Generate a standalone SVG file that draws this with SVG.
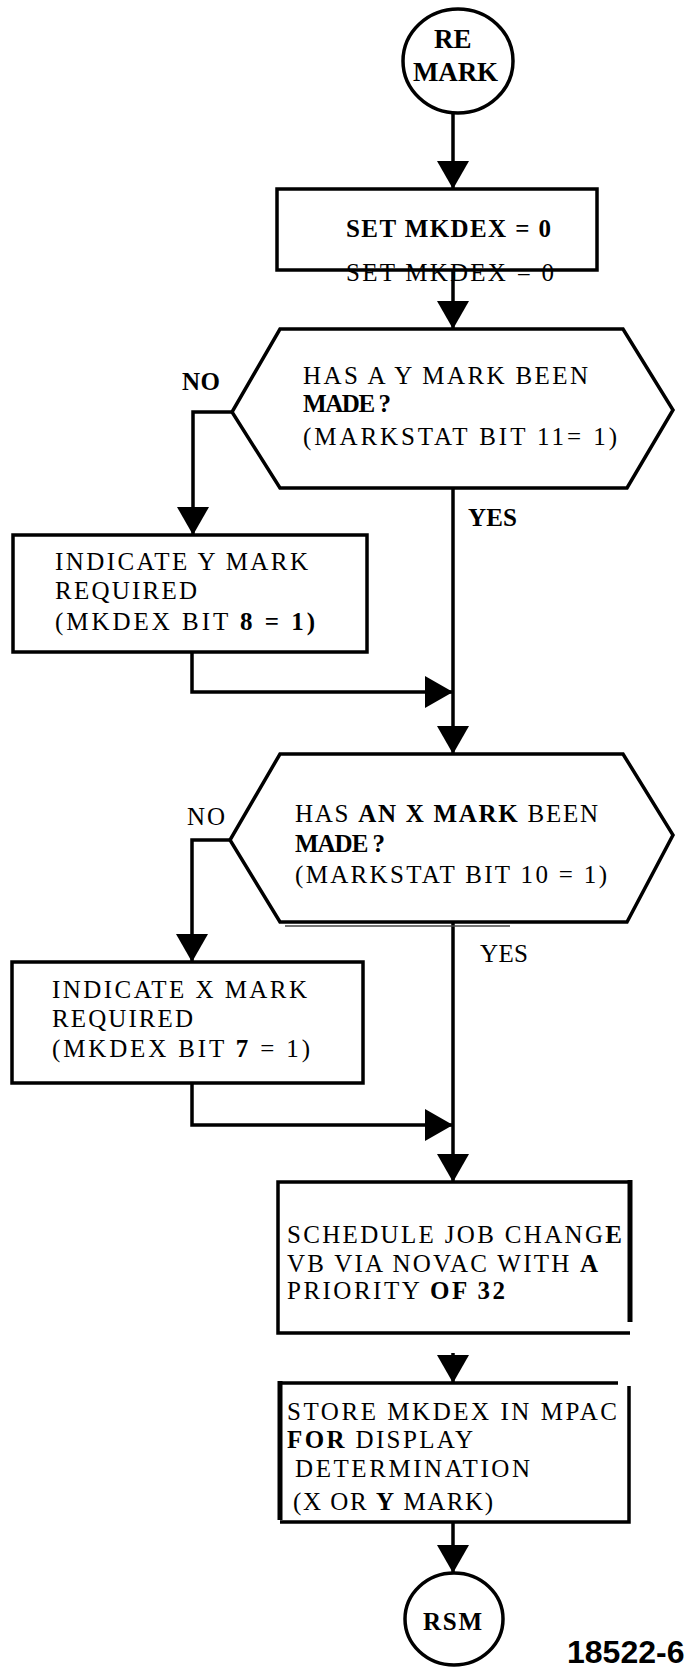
<svg xmlns="http://www.w3.org/2000/svg" width="685" height="1667" viewBox="0 0 685 1667">
  <style>
    .shape { fill: #fff; stroke: #000; stroke-width: 3.5; }
    .edge { fill: none; stroke: #000; stroke-width: 3.5; }
    .wire { fill: none; stroke: #000; stroke-width: 3.5; }
    .t { font-family: "Liberation Serif", "Times New Roman", serif; font-size: 25px; fill: #000; }
    .b { font-weight: bold; }
    .term { font-family: "Liberation Serif", "Times New Roman", serif; font-weight: bold; fill: #000; }
    .ref { font-family: "Liberation Sans", Arial, sans-serif; font-weight: bold; font-size: 32px; fill: #000; }
  </style>
  <defs>
    <marker id="head" markerUnits="userSpaceOnUse" markerWidth="28" markerHeight="32" refX="28" refY="16" orient="auto" viewBox="0 0 28 32">
      <path d="M0,0 L28,16 L0,32 Z" fill="#000"/>
    </marker>
  </defs>
  <rect width="685" height="1667" fill="#fff"/>

  <!-- flow lines -->
  <g id="connectors">
    <path class="wire" d="M453,113 V189" marker-end="url(#head)"/>
    <path class="wire" d="M453,270 V329" marker-end="url(#head)"/>
    <path class="wire" d="M232,412 H193 V535" marker-end="url(#head)"/>
    <path class="wire" d="M453,488 V754" marker-end="url(#head)"/>
    <path class="wire" d="M192,652 V692 H453" marker-end="url(#head)"/>
    <path class="wire" d="M230,840 H192 V962" marker-end="url(#head)"/>
    <path class="wire" d="M453,922 V1182" marker-end="url(#head)"/>
    <path class="wire" d="M192,1083 V1125 H453" marker-end="url(#head)"/>
    <path class="wire" d="M453,1353 V1383" marker-end="url(#head)"/>
    <path class="wire" d="M453,1522 V1573" marker-end="url(#head)"/>
  </g>

  <g id="remark">
    <ellipse class="shape" cx="458" cy="61" rx="55" ry="52"/>
    <text class="term" x="434" y="48" font-size="27">RE</text>
    <text class="term" x="413" y="81" font-size="27" textLength="85">MARK</text>
  </g>

  <g id="set-mkdex">
    <rect class="shape" x="277" y="189" width="320" height="81"/>
    <text class="t b" x="346" y="237" font-size="26" textLength="205">SET MKDEX = 0</text>
    <text class="t" x="346" y="281" font-size="26" fill="#222" textLength="208">SET MKDEX = 0</text>
  </g>

  <g id="y-mark-test">
    <polygon class="shape" points="280,329 623,329 673,410 627,488 280,488 232,412"/>
    <text class="t" x="303" y="384" textLength="285">HAS A Y MARK BEEN</text>
    <text class="t b" x="303" y="412" textLength="88">MADE ?</text>
    <text class="t" x="303" y="445" textLength="314">(MARKSTAT BIT 11= 1)</text>
    <text class="t b" x="182" y="390" textLength="38">NO</text>
    <text class="t b" x="468" y="526" textLength="49">YES</text>
  </g>

  <g id="y-mark-required">
    <rect class="shape" x="13" y="535" width="354" height="117"/>
    <text class="t" x="55" y="570" textLength="253">INDICATE Y MARK</text>
    <text class="t" x="55" y="599" textLength="142">REQUIRED</text>
    <text class="t" x="55" y="630" textLength="260">(MKDEX BIT <tspan class="b">8 = 1)</tspan></text>
  </g>

  <g id="x-mark-test">
    <polygon class="shape" points="280,754 623,754 673,835 627,922 280,922 230,840"/>
    <line x1="285" y1="926" x2="510" y2="926" stroke="#444" stroke-width="1.5"/>
    <text class="t" x="295" y="822" textLength="303">HAS <tspan class="b">AN X MARK</tspan> BEEN</text>
    <text class="t b" x="295" y="852" textLength="90">MADE ?</text>
    <text class="t" x="295" y="883" textLength="312">(MARKSTAT BIT 10 = 1)</text>
    <text class="t" x="187" y="825" textLength="38">NO</text>
    <text class="t" x="480" y="962" textLength="48">YES</text>
  </g>

  <g id="x-mark-required">
    <rect class="shape" x="12" y="962" width="351" height="121"/>
    <text class="t" x="52" y="998" textLength="255">INDICATE X MARK</text>
    <text class="t" x="52" y="1027" textLength="141">REQUIRED</text>
    <text class="t" x="52" y="1057" textLength="258">(MKDEX BIT <tspan class="b">7</tspan> = 1)</text>
  </g>

  <g id="schedule-job">
    <rect x="278" y="1182" width="352" height="151" fill="#fff"/>
    <path class="edge" d="M630,1182 H278 V1333 H630"/>
    <line x1="630" y1="1180" x2="630" y2="1322" stroke="#000" stroke-width="5"/>
    <text class="t" x="287" y="1243" textLength="335">SCHEDULE JOB CHANG<tspan class="b">E</tspan></text>
    <text class="t" x="287" y="1272" textLength="311">VB VIA NOVAC WITH <tspan class="b">A</tspan></text>
    <text class="t" x="287" y="1299" textLength="218">PRIORITY <tspan class="b">OF 32</tspan></text>
  </g>

  <g id="store-mkdex">
    <rect x="280" y="1383" width="349" height="139" fill="#fff"/>
    <path class="edge" d="M618,1383 H280 M629,1386 V1522 H280"/>
    <line x1="280" y1="1381" x2="280" y2="1520" stroke="#000" stroke-width="5"/>
    <text class="t" x="287" y="1420" textLength="330">STORE MKDEX IN MPAC</text>
    <text class="t" x="287" y="1448" textLength="186"><tspan class="b">FOR</tspan> DISPLAY</text>
    <text class="t" x="295" y="1477" textLength="235">DETERMINATION</text>
    <text class="t" x="293" y="1510" textLength="200">(X OR <tspan class="b">Y</tspan> MARK)</text>
  </g>

  <g id="rsm">
    <ellipse class="shape" cx="454" cy="1619" rx="49" ry="46"/>
    <text class="term" x="423" y="1630" font-size="25" textLength="59">RSM</text>
  </g>

  <text class="ref" x="567" y="1663">18522-6</text>
</svg>
